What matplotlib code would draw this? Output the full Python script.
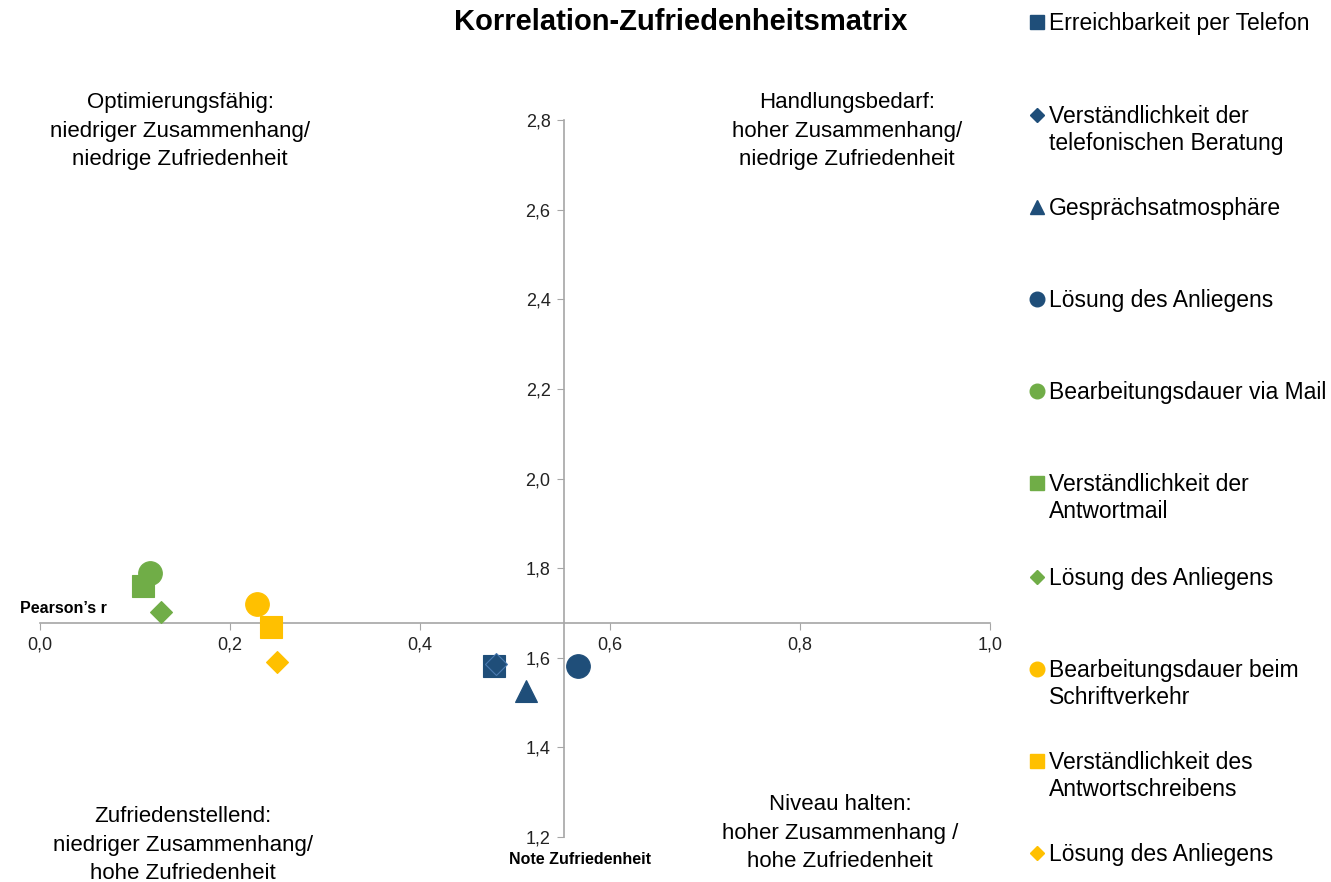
import matplotlib.pyplot as plt
from matplotlib.ticker import FuncFormatter

plt.rcParams['font.family'] = ['Liberation Sans', 'DejaVu Sans']

# data: Pearson's r (x) and Note Zufriedenheit (y)
labels = ["Erreichbarkeit per Telefon",
          "Verständlichkeit der\ntelefonischen Beratung",
          "Gesprächsatmosphäre",
          "Lösung des Anliegens",
          "Bearbeitungsdauer via Mail",
          "Verständlichkeit der\nAntwortmail",
          "Lösung des Anliegens",
          "Bearbeitungsdauer beim\nSchriftverkehr",
          "Verständlichkeit des\nAntwortschreibens",
          "Lösung des Anliegens"]
pearson_r = [0.478, 0.480, 0.512, 0.566, 0.116, 0.108, 0.127, 0.228, 0.243, 0.249]
note = [1.582, 1.586, 1.525, 1.582, 1.790, 1.759, 1.701, 1.721, 1.669, 1.590]
x_cross = 0.552
y_cross = 1.678

blue = "#1f4e79"
green = "#70ad47"
yellow = "#ffc000"
colors = [blue, blue, blue, blue, green, green, green, yellow, yellow, yellow]
markers = ['s', 'D', '^', 'o', 'o', 's', 'D', 'o', 's', 'D']
sizes = {'s': 16, 'D': 11.5, '^': 16, 'o': 17}
leg_sizes = {'s': 10, 'D': 7.3, '^': 10, 'o': 10.5}

W, H = 1331, 882
fig = plt.figure(figsize=(W / 100, H / 100), dpi=100)
ax = fig.add_axes([40 / W, 1 - 837 / H, 950 / W, 717 / H])
ax.set_xlim(0, 1.0)
ax.set_ylim(1.2, 2.8)

for i in range(len(labels)):
    ec = "#4a7ab0" if markers[i] == 'D' and colors[i] == blue else colors[i]
    ax.plot(pearson_r[i], note[i], marker=markers[i], color=colors[i],
            markersize=sizes[markers[i]], markeredgecolor=ec,
            markeredgewidth=0.8, linestyle='none', zorder=3)

for s in ['top', 'right']:
    ax.spines[s].set_visible(False)
ax.spines['left'].set_position(('data', x_cross))
ax.spines['bottom'].set_position(('data', y_cross))
for s in ['left', 'bottom']:
    ax.spines[s].set_color('#a6a6a6')
    ax.spines[s].set_linewidth(1.2)

ax.set_xticks([0, 0.2, 0.4, 0.6, 0.8, 1.0])
ax.set_yticks([1.2, 1.4, 1.6, 1.8, 2.0, 2.2, 2.4, 2.6, 2.8])
fmt = FuncFormatter(lambda v, p: f"{v:.1f}".replace('.', ','))
ax.xaxis.set_major_formatter(fmt)
ax.yaxis.set_major_formatter(fmt)
ax.tick_params(axis='both', direction='out', length=5, color='#a6a6a6',
               labelsize=13, labelcolor='#222222', pad=5)
ax.patch.set_visible(False)

# axis titles
ax.text(0.025, 1.71, "Pearson’s r", fontsize=11.5, fontweight='bold',
        ha='center', va='center')
ax.text(0.568, 1.15, "Note Zufriedenheit", fontsize=11.5, fontweight='bold',
        ha='center', va='center', clip_on=False)

# title
fig.text(681 / W, 1 - 22 / H, "Korrelation-Zufriedenheitsmatrix",
         fontsize=21, fontweight='bold', ha='center', va='center')

# quadrant descriptions
quad_kw = dict(fontsize=16, ha='center', va='center', linespacing=1.45)
fig.text(180 / W, 1 - 131 / H,
         "Optimierungsfähig:\nniedriger Zusammenhang/\nniedrige Zufriedenheit", **quad_kw)
fig.text(847 / W, 1 - 131 / H,
         "Handlungsbedarf:\nhoher Zusammenhang/\nniedrige Zufriedenheit", **quad_kw)
fig.text(183 / W, 1 - 845 / H,
         "Zufriedenstellend:\nniedriger Zusammenhang/\nhohe Zufriedenheit", **quad_kw)
fig.text(840 / W, 1 - 833 / H,
         "Niveau halten:\nhoher Zusammenhang /\nhohe Zufriedenheit", **quad_kw)

# legend, drawn by hand so markers sit on the first line
leg_y = [22, 115, 207, 299, 391, 483, 577, 669, 761, 853]
for i in range(len(labels)):
    yy = 1 - leg_y[i] / H
    fig.lines.append(plt.Line2D([1037 / W], [yy], marker=markers[i],
                                color=colors[i], markersize=leg_sizes[markers[i]],
                                linestyle='none', transform=fig.transFigure))
    fig.text(1049 / W, yy + 0.0115, labels[i], fontsize=16.5, ha='left',
             va='top', linespacing=1.25)

fig.savefig("out.png", dpi=100)
